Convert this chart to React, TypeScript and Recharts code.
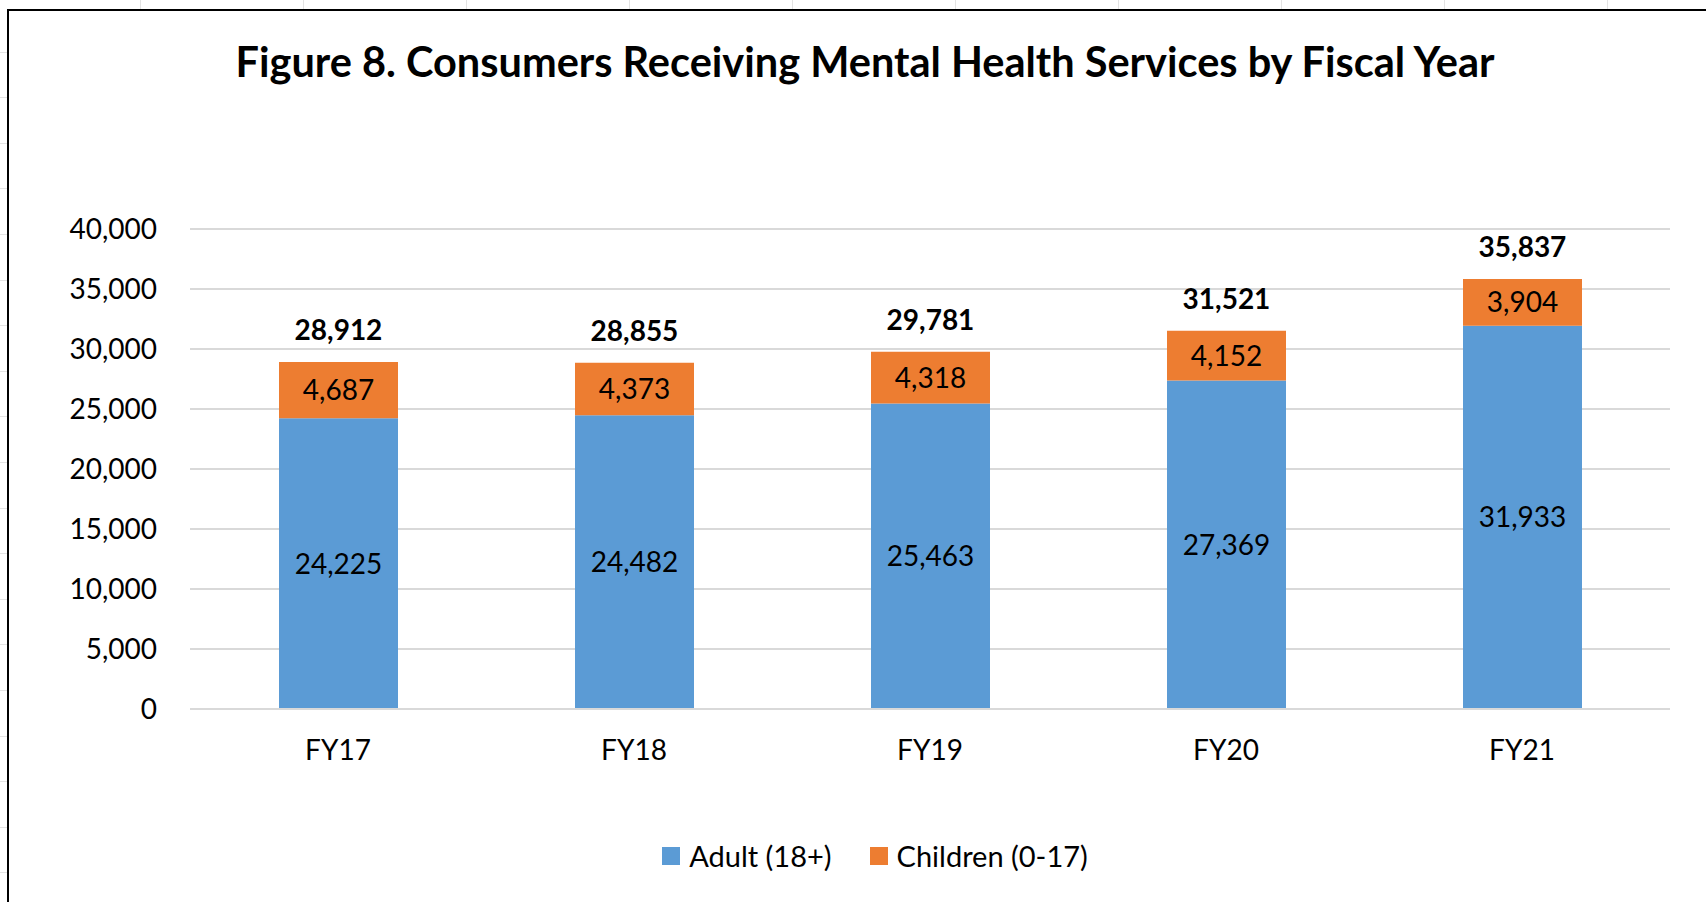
import React from 'react';
import { BarChart, Bar, XAxis, YAxis, CartesianGrid, Legend, LabelList } from 'recharts';

const fiscalYears = ['FY17', 'FY18', 'FY19', 'FY20', 'FY21'];
const adultCounts = [24225, 24482, 25463, 27369, 31933];
const childCounts = [4687, 4373, 4318, 4152, 3904];
const totalCounts = [28912, 28855, 29781, 31521, 35837];
const yTicks = [0, 5000, 10000, 15000, 20000, 25000, 30000, 35000, 40000];

const chartData = fiscalYears.map((fy, i) => ({
  fy,
  adult: adultCounts[i],
  children: childCounts[i],
  total: totalCounts[i],
}));

const FONT = 'Lato, "Open Sans", sans-serif';
const BLUE = '#5B9BD5';
const ORANGE = '#ED7D31';
const GRID = '#D9D9D9';
const fmt = (v: number) => Number(v).toLocaleString('en-US');

// value centred in its segment (baseline sits ~0.36em under the cap centre)
const segmentLabel = (props: any) => {
  const { x, y, width, height, value } = props;
  return (
    <text x={x + width / 2} y={y + height / 2 + 10} textAnchor="middle" fontFamily={FONT} fontSize={28} fill="#000">
      {fmt(value)}
    </text>
  );
};

const totalLabel = (props: any) => {
  const { x, y, width, value } = props;
  return (
    <text x={x + width / 2} y={y - 22} textAnchor="middle" fontFamily={FONT} fontSize={28} fontWeight={700} fill="#000">
      {fmt(value)}
    </text>
  );
};

const renderLegend = (props: any) => {
  const { payload } = props;
  return (
    <div style={{ display: 'flex', justifyContent: 'center', alignItems: 'center', fontFamily: FONT, fontSize: 29, color: '#000' }}>
      {payload.map((p: any, i: number) => (
        <div key={p.value} style={{ display: 'flex', alignItems: 'center', marginLeft: i === 0 ? 0 : 38 }}>
          <span style={{ width: 18, height: 18, background: p.color, display: 'inline-block', marginRight: 9 }} />
          <span>{p.value}</span>
        </div>
      ))}
    </div>
  );
};

const App: React.FC = () => {
  return (
    <div style={{ position: 'relative', width: 1706, height: 902, overflow: 'hidden', background: '#fff' }}>
      <style>{'body{margin:0}'}</style>
      {/* spreadsheet cell lines peeking out around the chart box */}
      <div
        style={{
          position: 'absolute', left: 0, top: 0, width: 7, height: 902,
          backgroundImage: 'repeating-linear-gradient(to bottom, transparent 0px, transparent 44.6px, #e3e3e3 44.6px, #e3e3e3 45.6px)',
          backgroundPosition: '0 7px',
        }}
      />
      <div
        style={{
          position: 'absolute', left: 0, top: 0, width: 1706, height: 9,
          backgroundImage: 'repeating-linear-gradient(to right, transparent 0px, transparent 162px, #e3e3e3 162px, #e3e3e3 163px)',
          backgroundPosition: '-22px 0',
        }}
      />
      <div style={{ position: 'absolute', left: 7, top: 9, width: 1800, height: 1000, border: '2px solid #000', background: '#fff' }} />

      <svg style={{ position: 'absolute', left: 0, top: 0 }} width={1706} height={110}>
        <text x={865} y={77} textAnchor="middle" fontFamily={FONT} fontSize={41.5} fontWeight={700} fill="#000">
          Figure 8. Consumers Receiving Mental Health Services by Fiscal Year
        </text>
      </svg>

      <div style={{ position: 'absolute', left: 0, top: 0 }}>
        <BarChart
          width={1706}
          height={902}
          data={chartData}
          margin={{ top: 229, right: 36, bottom: 133, left: 0 }}
          barSize={119}
        >
          <CartesianGrid vertical={false} stroke={GRID} strokeWidth={2} />
          <XAxis
            dataKey="fy"
            height={60}
            tickSize={0}
            tickMargin={31}
            axisLine={{ stroke: GRID, strokeWidth: 2 }}
            tickLine={false}
            tick={{ fontFamily: FONT, fontSize: 28, fill: '#000' }}
          />
          <YAxis
            width={190}
            domain={[0, 40000]}
            ticks={yTicks}
            tickFormatter={fmt}
            tickSize={0}
            tickMargin={33}
            axisLine={false}
            tickLine={false}
            tick={{ fontFamily: FONT, fontSize: 28, fill: '#000' }}
          />
          <Legend
            verticalAlign="middle"
            align="center"
            layout="horizontal"
            content={renderLegend}
            wrapperStyle={{ top: 838, left: 14, width: 1722 }}
          />
          <Bar dataKey="adult" name="Adult (18+)" stackId="a" fill={BLUE} isAnimationActive={false}>
            <LabelList dataKey="adult" content={segmentLabel} />
          </Bar>
          <Bar dataKey="children" name="Children (0-17)" stackId="a" fill={ORANGE} isAnimationActive={false}>
            <LabelList dataKey="children" content={segmentLabel} />
            <LabelList dataKey="total" content={totalLabel} />
          </Bar>
        </BarChart>
      </div>
    </div>
  );
};

export default App;
